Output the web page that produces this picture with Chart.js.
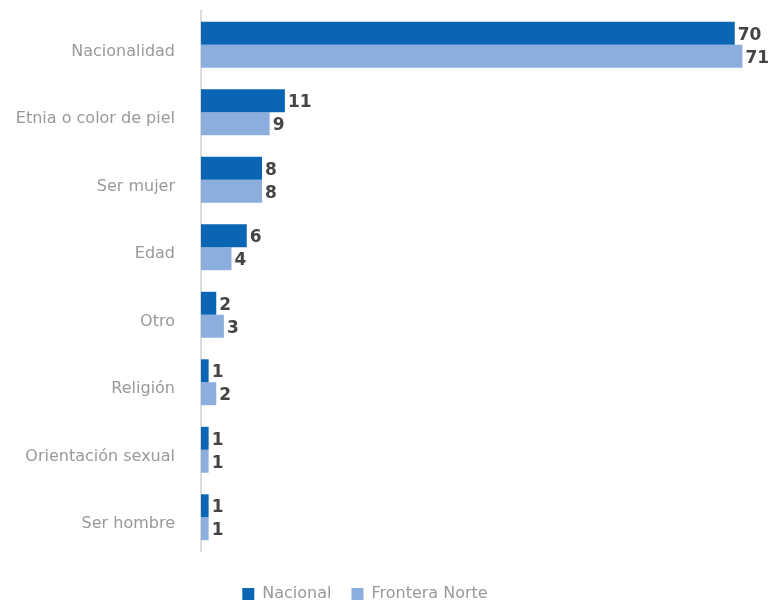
<!DOCTYPE html>
<html lang="es">
<head>
<meta charset="utf-8">
<title>Discriminación</title>
<script src="https://cdn.jsdelivr.net/npm/chart.js@4/dist/chart.umd.min.js"></script>
<style>
  html, body { margin: 0; padding: 0; background: #fff; }
  #wrap { width: 769px; height: 601px; }
</style>
</head>
<body>
<div id="wrap"><canvas id="discChart" width="769" height="601"></canvas></div>
<script>
const categories = ["Nacionalidad", "Etnia o color de piel", "Ser mujer", "Edad", "Otro", "Religión", "Orientación sexual", "Ser hombre"];
const nacional = [70, 11, 8, 6, 2, 1, 1, 1];
const fronteraNorte = [71, 9, 8, 4, 3, 2, 1, 1];
const seriesNames = ["Nacional", "Frontera Norte"];

const DARK = '#0a66b5';
const LIGHT = '#8caedd';
const FONT = "'DejaVu Sans', sans-serif";

// prints the value right after the end of every bar
const barValues = {
    id: 'barValues',
    afterDatasetsDraw(chart) {
        const ctx = chart.ctx;
        ctx.save();
        ctx.font = "bold 17px " + FONT;
        ctx.fillStyle = '#444';
        ctx.textAlign = 'left';
        ctx.textBaseline = 'middle';
        chart.data.datasets.forEach((ds, i) => {
            chart.getDatasetMeta(i).data.forEach((bar, j) => {
                ctx.fillText(ds.data[j], bar.x + 3, bar.y + 2);
            });
        });
        ctx.restore();
    }
};

// nudge the legend a bit lower and left without shrinking the plot
const legendOffset = {
    id: 'legendOffset',
    afterUpdate(chart) {
        const lg = chart.legend;
        lg.top += 15;
        lg.bottom += 15;
        lg.left -= 10;
        lg.right -= 10;
    }
};

const ctx = document.getElementById('discChart').getContext('2d');
new Chart(ctx, {
    type: 'bar',
    data: {
        labels: categories,
        datasets: [
            { label: seriesNames[0], data: nacional, backgroundColor: DARK },
            { label: seriesNames[1], data: fronteraNorte, backgroundColor: LIGHT }
        ]
    },
    options: {
        indexAxis: 'y',
        responsive: false,
        animation: false,
        datasets: {
            bar: { categoryPercentage: 0.68, barPercentage: 1 }
        },
        layout: { padding: { top: 11, right: 19, bottom: 4, left: 0 } },
        scales: {
            x: {
                display: false,
                min: 0,
                max: 72
            },
            y: {
                grid: { display: false },
                border: { display: true, color: '#dcdcdc', width: 2 },
                ticks: {
                    color: '#999',
                    font: { family: FONT, size: 16 },
                    padding: 18,
                    labelOffset: 7
                },
                afterFit(scale) {
                    scale.width = 201;
                    // tick padding shouldn't push the plot down
                    scale.paddingTop = 0;
                    scale.paddingBottom = 0;
                }
            }
        },
        plugins: {
            tooltip: { enabled: false },
            legend: {
                position: 'bottom',
                labels: {
                    color: '#999',
                    font: { family: FONT, size: 16 },
                    boxWidth: 12,
                    boxHeight: 12,
                    padding: 20
                }
            }
        }
    },
    plugins: [barValues, legendOffset]
});
</script>
</body>
</html>
